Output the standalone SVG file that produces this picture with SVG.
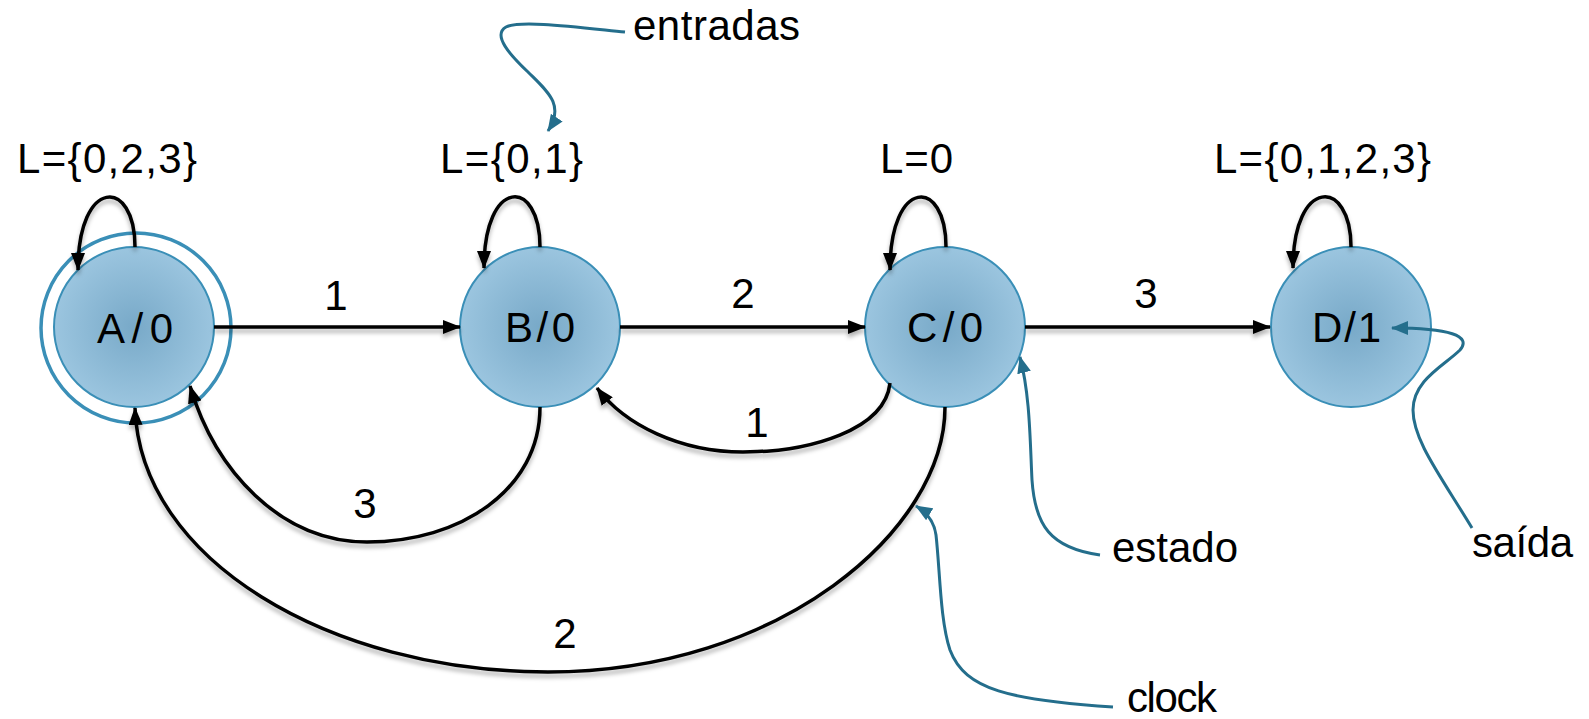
<svg xmlns="http://www.w3.org/2000/svg" width="1589" height="719" viewBox="0 0 1589 719">
<style>
text{font-family:"Liberation Sans",Arial,sans-serif;font-size:42px;fill:#000}
.node{fill:url(#ng);stroke:#3a8fb7;stroke-width:2}
.ring{fill:none;stroke:#3a8fb7;stroke-width:3.5}
.edge{fill:none;stroke:#000;stroke-width:3.5;marker-end:url(#ah)}
.call{fill:none;stroke:#246e8c;stroke-width:3;marker-end:url(#ch)}
.mid{text-anchor:middle}
</style>
<defs>
<radialGradient id="ng" cx="50%" cy="50%" r="50%">
<stop offset="0" stop-color="#78a9c8"/>
<stop offset="1" stop-color="#9bc5df"/>
</radialGradient>
<marker id="ah" viewBox="0 0 18 14" refX="17" refY="7" markerWidth="18" markerHeight="14" markerUnits="userSpaceOnUse" orient="auto">
<path d="M0,0 L18,7 L0,14 z" fill="#000"/>
</marker>
<marker id="ch" viewBox="0 0 17 14" refX="16" refY="7" markerWidth="17" markerHeight="14" markerUnits="userSpaceOnUse" orient="auto">
<path d="M0,0 L17,7 L0,14 z" fill="#246e8c"/>
</marker>
<filter id="sh" filterUnits="userSpaceOnUse" x="0" y="0" width="1589" height="719">
<feDropShadow dx="0" dy="4" stdDeviation="2" flood-color="#000" flood-opacity="0.3"/>
</filter>
</defs>
<rect width="1589" height="719" fill="#fff"/>

<g id="nodeA">
<circle class="ring" cx="136" cy="328" r="95"/>
<circle class="node" cx="134" cy="327" r="80"/>
<text x="97" y="343" textLength="76">A/0</text>
</g>
<g id="nodeB">
<circle class="node" cx="540" cy="327" r="80"/>
<text x="505" y="342" textLength="70">B/0</text>
</g>
<g id="nodeC">
<circle class="node" cx="945" cy="327" r="80"/>
<text x="907" y="342" textLength="76">C/0</text>
</g>
<g id="nodeD">
<circle class="node" cx="1351" cy="327" r="80"/>
<text x="1312" y="342" textLength="69">D/1</text>
</g>

<g id="connectors" filter="url(#sh)">
<path class="edge" d="M135,247 C135,177 78,177 78,270"/>
<path class="edge" d="M540,247 C540,177 484,177 484,268"/>
<path class="edge" d="M946,247 C946,177 890,177 890,270"/>
<path class="edge" d="M1351,247 C1351,177 1293,177 1293,268"/>
<path class="edge" d="M214,327 L460,327"/>
<path class="edge" d="M620,327 L865,327"/>
<path class="edge" d="M1025,327 L1270,327"/>
<path class="edge" d="M890,383 C885,430 810,452 743,452 C680,452 625,425 597,388"/>
<path class="edge" d="M540,407 C540,490 460,542 367,542 C280,542 215,470 190,386"/>
<path class="edge" d="M945,407 C945,530 780,672 548,672 C330,672 140,560 135,408"/>
</g>

<g id="edge-labels">
<text x="17" y="173" textLength="180">L={0,2,3}</text>
<text x="440" y="173" textLength="143">L={0,1}</text>
<text x="880" y="173" textLength="73">L=0</text>
<text x="1214" y="173" textLength="217">L={0,1,2,3}</text>
<text class="mid" x="336" y="310">1</text>
<text class="mid" x="743" y="308">2</text>
<text class="mid" x="1146" y="308">3</text>
<text class="mid" x="757" y="437">1</text>
<text class="mid" x="365" y="518">3</text>
<text class="mid" x="565" y="648">2</text>
</g>

<g id="callouts">
<path class="call" d="M625,32 C575,27 520,20 506,27 C492,35 510,55 528,72 C548,92 565,105 548,131"/>
<text x="633" y="40" textLength="167">entradas</text>
<path class="call" d="M1100,555 C1050,548 1035,525 1032,480 C1030,440 1030,395 1020,357"/>
<text x="1112" y="562" textLength="126">estado</text>
<path class="call" d="M1113,707 C1010,700 965,690 950,650 C940,620 940,570 936,535 C934,520 926,512 916,506"/>
<text x="1127" y="712" textLength="90">clock</text>
<path class="call" d="M1472,528 C1440,475 1413,440 1413,410 C1413,380 1445,365 1460,350 C1472,336 1450,328 1392,328"/>
<text x="1472" y="557" textLength="101">saída</text>
</g>
</svg>
